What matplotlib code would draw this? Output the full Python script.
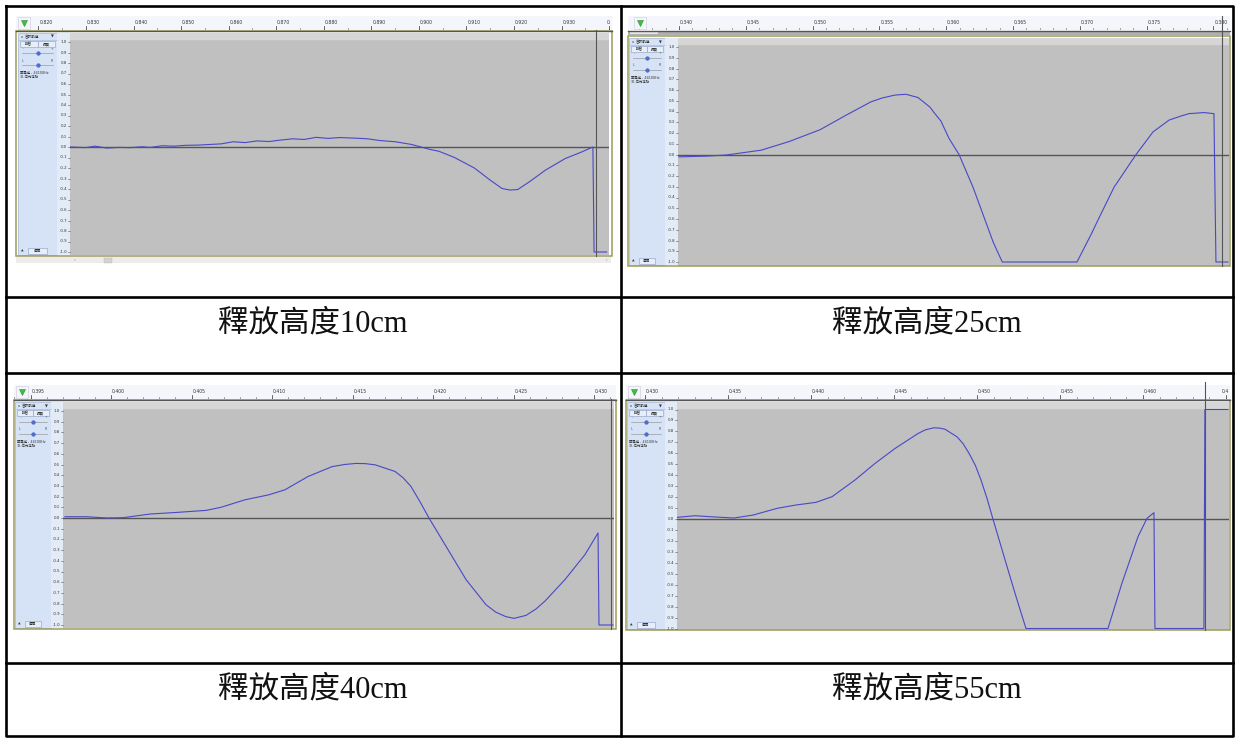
import matplotlib
matplotlib.use("Agg")
import matplotlib.pyplot as plt
from matplotlib.patches import Rectangle
import numpy as np

W, H = 1235, 738
plt.rcParams["font.family"] = ["DejaVu Sans", "Noto Sans CJK TC"]

captions = ["釋放高度10cm", "釋放高度25cm", "釋放高度40cm", "釋放高度55cm"]

# waveforms (time in s, amplitude -1..1)
t_10 = [0.82672, 0.82994, 0.83187, 0.83435, 0.83685, 0.83934, 0.84184, 0.84350,
        0.84600, 0.84848, 0.85098, 0.85347, 0.85597, 0.85845, 0.86095, 0.86345,
        0.86593, 0.86844, 0.87092, 0.87342, 0.87590, 0.87840, 0.88090, 0.88339,
        0.88671, 0.88921, 0.89169, 0.89503, 0.89836, 0.90002, 0.90250, 0.90416,
        0.90748, 0.91165, 0.91497, 0.91747, 0.91913, 0.92079, 0.92327, 0.92661,
        0.93076, 0.93408, 0.93658, 0.93683, 0.93948]
amp_10 = [0.0, -0.006, 0.008, -0.01, -0.004, -0.006, 0.002, -0.004,
          0.012, 0.008, 0.016, 0.018, 0.024, 0.03, 0.05, 0.042,
          0.058, 0.052, 0.066, 0.078, 0.072, 0.092, 0.082, 0.09,
          0.084, 0.078, 0.062, 0.05, 0.025, 0.005, -0.025, -0.04,
          -0.1, -0.2, -0.315, -0.395, -0.41, -0.405, -0.33, -0.22,
          -0.11, -0.05, 0.0, -1.0, -1.0]

t_25 = [0.34000, 0.34200, 0.34352, 0.34614, 0.34823, 0.35055, 0.35257, 0.35437,
        0.35519, 0.35617, 0.35699, 0.35789, 0.35879, 0.35909, 0.35961, 0.36021,
        0.36096, 0.36201, 0.36350, 0.36390, 0.36420, 0.36979, 0.37084, 0.37140,
        0.37256, 0.37421, 0.37548, 0.37668, 0.37750, 0.37817, 0.37930, 0.38004,
        0.38019, 0.38109]
amp_25 = [-0.022, -0.015, -0.005, 0.04, 0.12, 0.23, 0.37, 0.49,
          0.525, 0.553, 0.56, 0.53, 0.44, 0.39, 0.31, 0.15,
          0.0, -0.305, -0.81, -0.92, -1.0, -1.0, -0.745, -0.6,
          -0.305, 0.0, 0.21, 0.32, 0.355, 0.38, 0.39, 0.38,
          -1.0, -1.0]

t_40 = [0.39714, 0.39851, 0.39975, 0.40075, 0.40242, 0.40416, 0.40590, 0.40683,
        0.40832, 0.40981, 0.41081, 0.41224, 0.41373, 0.41450, 0.41522, 0.41580,
        0.41640, 0.41764, 0.41815, 0.41863, 0.41920, 0.41975, 0.42087, 0.42205,
        0.42329, 0.42390, 0.42453, 0.42503, 0.42578, 0.42640, 0.42696, 0.42820,
        0.42944, 0.43025, 0.43031, 0.43118]
amp_40 = [0.012, 0.012, 0.0, 0.003, 0.037, 0.053, 0.071, 0.1,
          0.17, 0.217, 0.264, 0.388, 0.48, 0.50, 0.51, 0.508,
          0.497, 0.435, 0.375, 0.295, 0.15, 0.0, -0.28, -0.575,
          -0.81, -0.88, -0.922, -0.938, -0.91, -0.85, -0.776, -0.575,
          -0.342, -0.14, -1.0, -1.0]

t_55 = [0.43193, 0.43301, 0.43392, 0.43536, 0.43651, 0.43795, 0.43910, 0.44030,
        0.44127, 0.44265, 0.44386, 0.44506, 0.44645, 0.44690, 0.44741, 0.44775,
        0.44807, 0.44880, 0.44915, 0.44952, 0.44990, 0.45024, 0.45060, 0.45096,
        0.45175, 0.45235, 0.45295, 0.45789, 0.45873, 0.45970, 0.46024, 0.46066,
        0.46072, 0.46367, 0.46373, 0.46512]
amp_55 = [0.015, 0.03, 0.021, 0.009, 0.036, 0.097, 0.128, 0.152,
          0.204, 0.356, 0.508, 0.644, 0.781, 0.815, 0.833, 0.83,
          0.82, 0.75, 0.69, 0.6, 0.49, 0.356, 0.19, 0.0,
          -0.404, -0.708, -1.0, -1.0, -0.587, -0.161, 0.006, 0.058,
          -1.0, -1.0, 1.0, 1.0]

# ruler labels and amplitude scale
ruler_10 = [0.820, 0.830, 0.840, 0.850, 0.860, 0.870, 0.880, 0.890, 0.900, 0.910, 0.920, 0.930, 0.940]
ruler_25 = [0.340, 0.345, 0.350, 0.355, 0.360, 0.365, 0.370, 0.375, 0.380]
ruler_40 = [0.395, 0.400, 0.405, 0.410, 0.415, 0.420, 0.425, 0.430]
ruler_55 = [0.430, 0.435, 0.440, 0.445, 0.450, 0.455, 0.460, 0.465]
scale_vals = [1.0, 0.9, 0.8, 0.7, 0.6, 0.5, 0.4, 0.3, 0.2, 0.1, 0.0,
              -0.1, -0.2, -0.3, -0.4, -0.5, -0.6, -0.7, -0.8, -0.9, -1.0]

# pixel layout of each screenshot inside the table
layouts = [
    dict(px=(16, 612), ruler=(16, 30), track=(31, 256), ctrl=(18, 57), gray=(70, 609), gray_y=(33, 255),
         y0=147, ppa=105, t_ref=0.830, x_ref=86, pps=4756, minor=0.005, cursor=596, cursor_y=(30, 256), tri=24),
    dict(px=(628, 1230), ruler=(16, 30), track=(36, 266), ctrl=(629, 665), gray=(678, 1229), gray_y=(38, 266),
         y0=154.5, ppa=107.5, t_ref=0.340, x_ref=679, pps=13360, minor=0.001, cursor=1222, cursor_y=(16, 266), tri=640),
    dict(px=(14, 616), ruler=(385, 399), track=(400, 629), ctrl=(15, 51), gray=(63, 614), gray_y=(402, 628),
         y0=518, ppa=107, t_ref=0.400, x_ref=111, pps=16100, minor=0.001, cursor=611, cursor_y=(399, 629), tri=22),
    dict(px=(626, 1230), ruler=(385, 399), track=(400, 630), ctrl=(627, 665), gray=(677, 1229), gray_y=(402, 630),
         y0=519, ppa=109.5, t_ref=0.435, x_ref=728, pps=16600, minor=0.001, cursor=1205, cursor_y=(382, 630), tri=634),
]
series = [(t_10, amp_10, ruler_10), (t_25, amp_25, ruler_25), (t_40, amp_40, ruler_40), (t_55, amp_55, ruler_55)]

fig = plt.figure(figsize=(W / 100, H / 100), dpi=100)
fig.patch.set_facecolor("white")
ov = fig.add_axes([0, 0, 1, 1], zorder=10)
ov.set_xlim(0, W)
ov.set_ylim(H, 0)
ov.axis("off")


def px_axes(x0, y0, x1, y1):
    a = fig.add_axes([x0 / W, 1 - y1 / H, (x1 - x0) / W, (y1 - y0) / H])
    a.set_xticks([])
    a.set_yticks([])
    for s in a.spines.values():
        s.set_visible(False)
    return a


def draw_ctrl(x0, x1, y0, y1):
    ov.add_patch(Rectangle((x0, y0), x1 - x0, y1 - y0, fc="#d6e3f6", ec="#9fb3d3", lw=0.5))
    yt = y0 + 2
    xm = (x0 + x1) / 2
    ov.text(x0 + 3, yt + 2.5, "x", fontsize=2.6, va="center", color="#333")
    ov.text(x0 + 7, yt + 2.5, "音訊軌道", fontsize=2.6, va="center", color="#333")
    ov.text(x1 - 3, yt + 2.5, "▼", fontsize=2.6, va="center", ha="right", color="#333")
    ov.plot([x0, x1], [yt + 5.5] * 2, color="#9fb3d3", lw=0.4)
    for bx0, bx1, lab in [(x0 + 2, xm, "靜音"), (xm, x1 - 2, "獨奏")]:
        ov.add_patch(Rectangle((bx0, yt + 6.5), bx1 - bx0, 6, fc="#e6eefa", ec="#8a9cc0", lw=0.4))
        ov.text((bx0 + bx1) / 2, yt + 9.5, lab, fontsize=2.6, ha="center", va="center", color="#333")
    for sy, l, r in [(yt + 18, "-", "+"), (yt + 30, "L", "R")]:
        ov.text(x0 + 5, sy - 4, l, fontsize=2.4, ha="center", va="center", color="#555")
        ov.text(x1 - 5, sy - 4, r, fontsize=2.4, ha="center", va="center", color="#555")
        ov.plot([x0 + 4, x1 - 4], [sy, sy], color="#8a8a8a", lw=0.4)
        ov.plot(xm, sy, marker="o", ms=2.6, color="#4a6ee0", mec="#3050b0", mew=0.3)
    ov.text(x0 + 2, yt + 38, "單聲道 , 44100Hz", fontsize=2.4, va="center", color="#333")
    ov.text(x0 + 2, yt + 42.5, "32-位元浮點", fontsize=2.4, va="center", color="#333")
    ov.text(x0 + 3, y1 - 4, "▲", fontsize=2.4, va="center", color="#333")
    ov.add_patch(Rectangle((x0 + 10, y1 - 7), x1 - x0 - 20, 6, fc="#e6eefa", ec="#8a9cc0", lw=0.4))
    ov.text(xm, y1 - 4, "選擇", fontsize=2.6, ha="center", va="center", color="#333")


for L, (t, a, ticks) in zip(layouts, series):
    tx = lambda x, L=L: L["t_ref"] + (x - L["x_ref"]) / L["pps"]
    ay = lambda y, L=L: (L["y0"] - y) / L["ppa"]
    px0, px1 = L["px"]
    ry0, ry1 = L["ruler"]
    rh = ry1 - ry0

    # time ruler
    r = px_axes(px0, ry0, px1, ry1)
    r.set_facecolor("#f4f6fb")
    r.set_xlim(tx(px0), tx(px1))
    r.set_ylim(rh, 0)
    m = L["minor"]
    for v in np.arange(np.ceil(tx(px0) / m) * m, tx(px1), m):
        r.plot([v, v], [rh, rh - 2], color="#777777", lw=0.5)
    for v in ticks:
        r.plot([v, v], [rh, rh - 4.5], color="#555555", lw=0.6)
        lab = f"{v:.3f}"
        tick_px = L["x_ref"] + (v - L["t_ref"]) * L["pps"]
        room = px1 - tick_px - 2
        if room >= 13:
            r.text(v + 1.0 / L["pps"], 6.5, lab, fontsize=3.3, ha="left", va="center", color="#333333")
        else:
            # the screenshot shows only the first characters of the last label at the edge
            n = int((px1 - tick_px + 6) / 3.3)
            ov.text(px1 - 1, ry0 + 6.5, lab[:n], fontsize=3.3, ha="right", va="center", color="#333333")
    ov.plot([px0, px1], [ry1 + 0.5] * 2, color="#555555", lw=1.0)
    ov.add_patch(Rectangle((L["tri"] - 6, ry0 + 1), 12, rh - 2, fc="#f4f6fb", ec="#c8ccd8", lw=0.4))
    ov.plot(L["tri"], ry0 + rh / 2, marker="v", ms=5, color="#3fbf3f", mec="#2f8f2f", mew=0.4)

    # track frame, control panel and amplitude scale
    ty0, ty1 = L["track"]
    cx0, cx1 = L["ctrl"]
    gx0, gx1 = L["gray"]
    gy0, gy1 = L["gray_y"]
    draw_ctrl(cx0, cx1, ty0 + 1.5, ty1 - 1)
    ov.add_patch(Rectangle((cx1, ty0 + 1.5), gx0 - cx1, ty1 - ty0 - 2.5, fc="#e3ebf7", ec="none"))
    for v in scale_vals:
        y = L["y0"] - v * L["ppa"]
        ov.text(gx0 - 3, y, f"{v:.1f}", fontsize=2.8, ha="right", va="center", color="#333333")
        ov.plot([gx0 - 2.5, gx0 - 0.5], [y, y], color="#555555", lw=0.4)

    # waveform
    g = px_axes(gx0, gy0, gx1, gy1)
    g.set_facecolor("#c0c0c0")
    g.set_xlim(tx(gx0), tx(gx1))
    g.set_ylim(ay(gy1), ay(gy0))
    g.axhspan(ay(gy0 + 6), ay(gy0), color="#d6d6d6", zorder=0)
    g.axhline(0, color="#555555", lw=1.0)
    g.plot(t, a, color="#4848c8", lw=0.8)

    ov.add_patch(Rectangle((px0, ty0), px1 - px0, ty1 - ty0, fill=False, ec="#9c9c5c", lw=1.1))
    ov.plot([L["cursor"]] * 2, L["cursor_y"], color="#555555", lw=0.8)

# extra bits: scrollbar under the first screenshot, strip under the second ruler
ov.add_patch(Rectangle((16, 257), 595, 6, fc="#ececec", ec="none"))
ov.add_patch(Rectangle((104, 257.5), 8, 5, fc="#d2d2d2", ec="#bcbcbc", lw=0.3))
ov.text(75, 260, "‹", fontsize=3, ha="center", va="center", color="#555")
ov.text(606, 260, "›", fontsize=3, ha="center", va="center", color="#555")
ov.add_patch(Rectangle((628, 31), 602, 4, fc="#b0b0b0", ec="none"))
ov.add_patch(Rectangle((630, 31.8), 28, 2.4, fc="#e6e6e6", ec="none"))

# table grid and captions
lw = 1.9
ov.plot([6, 1233, 1233, 6, 6], [6, 6, 736, 736, 6], color="black", lw=lw)
ov.plot([621, 621], [6, 736], color="black", lw=lw)
for y in [297, 373, 663]:
    ov.plot([6, 1233], [y, y], color="black", lw=lw)

cap_pos = [(313, 324), (927, 324), (313, 690), (927, 690)]
for (cx, cy), txt in zip(cap_pos, captions):
    ov.text(cx, cy, txt, fontsize=22, ha="center", va="center", fontweight="light",
            family=["Liberation Serif", "Noto Sans CJK TC"], color="#111111")

fig.savefig("out.png", dpi=100)
